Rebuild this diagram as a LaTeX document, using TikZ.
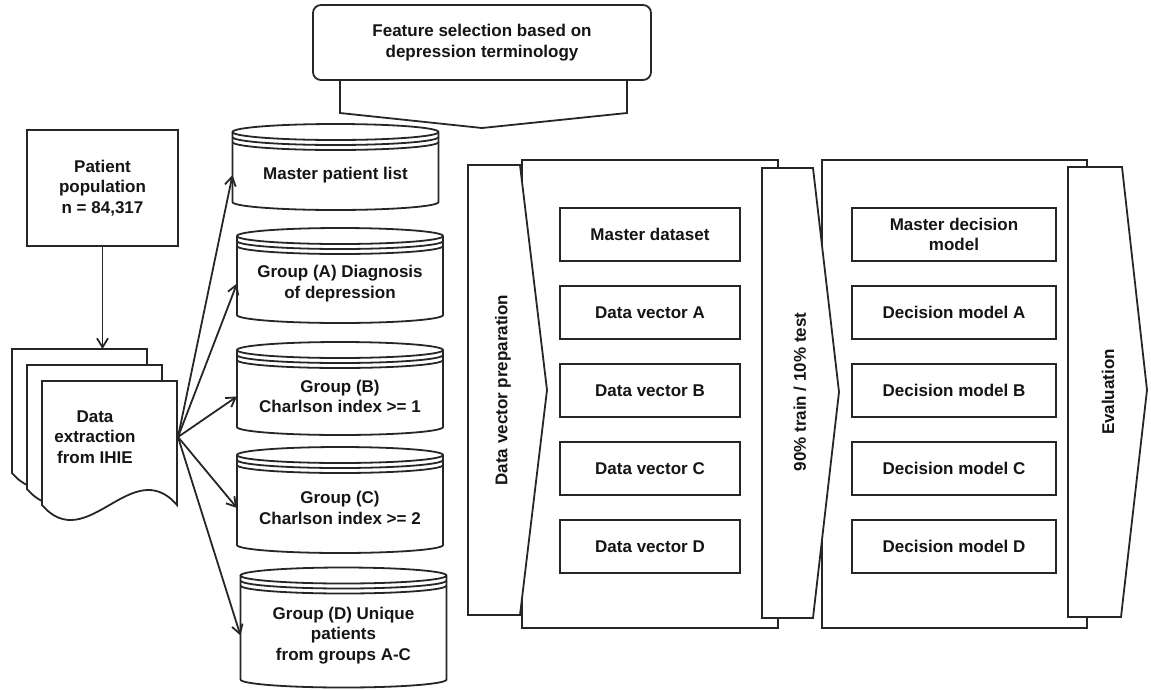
\documentclass[tikz,border=0pt]{standalone}
\usepackage{fontspec}
\setmainfont{Liberation Sans}
\usetikzlibrary{arrows.meta,positioning,calc}
\definecolor{FlowLine}{HTML}{262626}
\definecolor{FlowText}{HTML}{151515}
\tikzset{
  boxlabel/.style={font=\bfseries\fontsize{17}{20.5}\selectfont,text=FlowText,align=center},
  flowbox/.style={boxlabel,draw=FlowLine,line width=1.8pt,fill=white,inner sep=3pt,outer sep=0pt},
  vecbox/.style={flowbox,minimum width=180pt,minimum height=53pt},
  decbox/.style={flowbox,minimum width=204pt,minimum height=53pt},
  cylbody/.style={boxlabel,minimum width=206pt,inner sep=2pt,outer sep=0pt},
  cylline/.style={draw=FlowLine,line width=1.8pt},
  sheet/.style={draw=FlowLine,line width=1.8pt,fill=white},
  panelbox/.style={draw=FlowLine,line width=1.8pt,fill=white,outer sep=0pt},
  chevron/.style={draw=FlowLine,line width=1.8pt,fill=white,line join=miter},
  flowarrow/.style={-{Straight Barb[length=9pt,width=11pt]},line width=1.8pt,draw=FlowLine}
}
\begin{document}
\begin{tikzpicture}[x=1pt,y=1pt]
\useasboundingbox (0,0) rectangle (1151,-689);

% feature selection on top
\node[flowbox,rounded corners=8pt,minimum width=338pt,minimum height=75pt] (feat) at (482,-42.5) {Feature selection based on\\depression terminology};
\draw[cylline,line join=miter] ([xshift=-142pt]feat.south) -- ++(0,-33) -- ([yshift=-48pt]feat.south)
  -- ([xshift=145pt,yshift=-33pt]feat.south) -- ([xshift=145pt]feat.south);

% patient population and extraction
\node[flowbox,minimum width=151pt,minimum height=116pt] (pop) at (102.5,-188) {Patient\\population\\n = 84,317};
\foreach \dx/\dy in {0/0,15/-16,30/-32}
  \draw[sheet] (12+\dx,-349+\dy) -- ++(135,0) -- ++(0,-124)
    .. controls +(-45,52) and +(45,-52) .. ++(-135,0) -- cycle;
\node[boxlabel,minimum width=166pt,minimum height=176pt,outer sep=0pt] (extract) at (95,-437) {Data\\extraction\\from IHIE};
\draw[flowarrow] (pop.south) -- (pop.south |- extract.north);

% patient groups
\node[cylbody,minimum height=70pt] (mpl) at (335.5,-175) {Master patient list};
\node[cylbody,minimum height=79pt] (grpA) at (340,-283.5) {Group (A) Diagnosis\\of depression};
\node[cylbody,minimum height=77pt] (grpB) at (340,-396.5) {Group (B)\\Charlson index >= 1};
\node[cylbody,minimum height=90pt] (grpC) at (340,-508) {Group (C)\\Charlson index >= 2};
\node[cylbody,minimum height=104pt] (grpD) at (343.5,-635.5) {Group (D) Unique\\patients\\from groups A-C};
\foreach \c in {mpl,grpA,grpB,grpC,grpD}{
  \draw[cylline] ([yshift=8pt]\c.north west) -- ([yshift=8pt]\c.south west)
    arc[start angle=180,end angle=360,x radius=103pt,y radius=8pt]
    -- ([yshift=8pt]\c.north east)
    arc[start angle=0,end angle=360,x radius=103pt,y radius=8pt];
  \draw[cylline] ([yshift=3pt]\c.north west) arc[start angle=180,end angle=360,x radius=103pt,y radius=8pt];
  \draw[cylline] ([yshift=-2pt]\c.north west) arc[start angle=180,end angle=360,x radius=103pt,y radius=8pt];
  \draw[flowarrow] (extract.east) -- (\c.west);
}

% panels and stage chevrons
\node[panelbox,minimum width=256pt,minimum height=468pt] (vecpanel) at (650,-394) {};
\node[panelbox,minimum width=265pt,minimum height=468pt] (decpanel) at (954.5,-394) {};
\draw[chevron] (468,-165) -- (520,-165) -- (547,-390) -- (520,-615) -- (468,-615) -- cycle;
\draw[chevron] (762,-168) -- (813,-168) -- (839,-392) -- (813,-618) -- (762,-618) -- cycle;
\draw[chevron] (1068,-167) -- (1122,-167) -- (1147,-390) -- (1121,-617) -- (1068,-617) -- cycle;
\node[boxlabel,rotate=90] (prep) at (503,-390) {Data vector preparation};
\node[boxlabel,rotate=90] (split) at (800,-392) {90\% train / 10\% test};
\node[boxlabel,rotate=90] (eval) at (1108,-392) {Evaluation};

% data vectors
\node[vecbox] (mds) at (650,-234.5) {Master dataset};
\node[vecbox,below=25pt of mds] (dva) {Data vector A};
\node[vecbox,below=25pt of dva] (dvb) {Data vector B};
\node[vecbox,below=25pt of dvb] (dvc) {Data vector C};
\node[vecbox,below=25pt of dvc] (dvd) {Data vector D};

% decision models
\node[decbox] (mdm) at (954,-234.5) {Master decision\\model};
\node[decbox,below=25pt of mdm] (dma) {Decision model A};
\node[decbox,below=25pt of dma] (dmb) {Decision model B};
\node[decbox,below=25pt of dmb] (dmc) {Decision model C};
\node[decbox,below=25pt of dmc] (dmd) {Decision model D};
\end{tikzpicture}
\end{document}
